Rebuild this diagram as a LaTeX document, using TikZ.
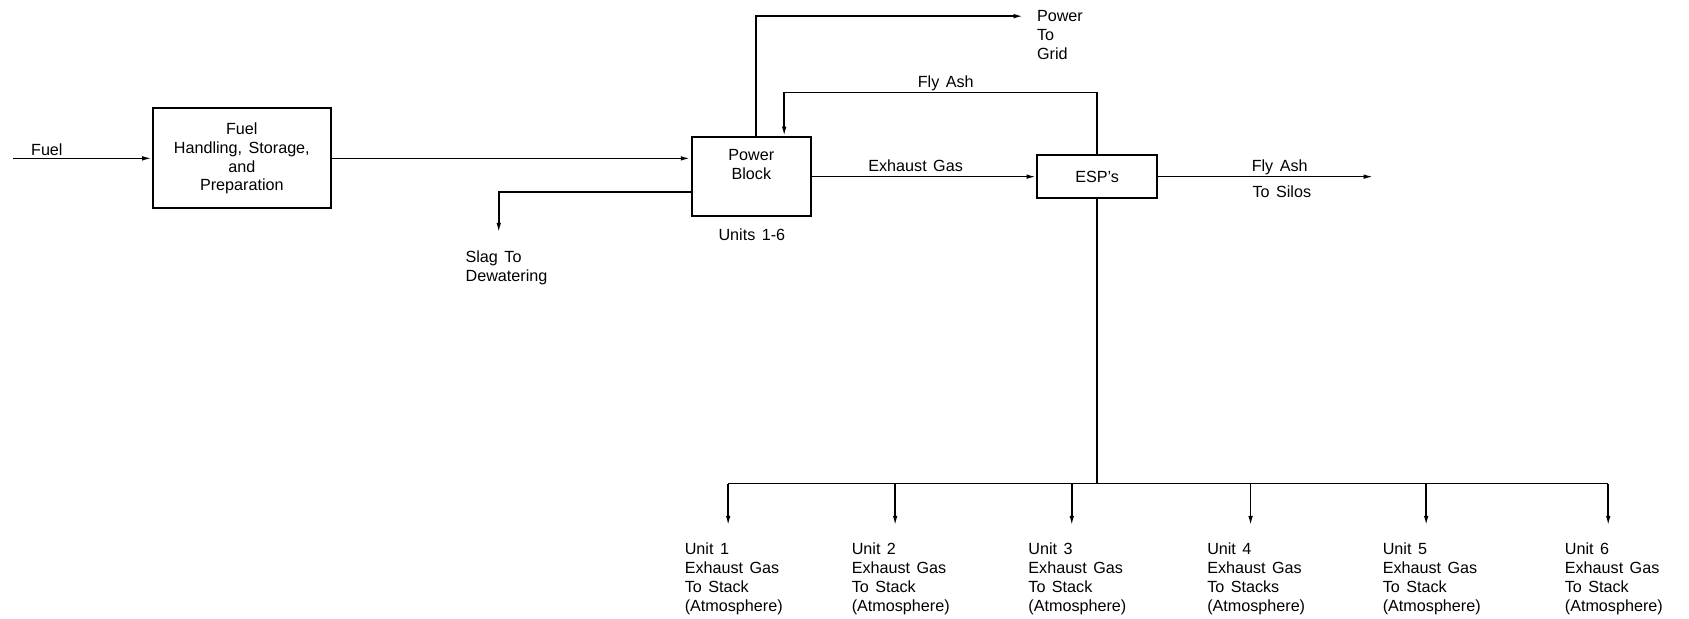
\documentclass[tikz,border=0pt]{standalone}
\usepackage{fontspec}
\setmainfont{Liberation Sans}
\usetikzlibrary{arrows.meta}
\newcommand{\cadfont}{\fontsize{15}{17.6}\selectfont\spaceskip=6pt\relax}

\begin{document}
\begin{tikzpicture}[x=1pt, y=-1pt, line width=1.5pt, >={Latex[length=9pt,width=4.2pt]},
	every node/.style={font=\cadfont, inner sep=0pt},
	unit/.style={draw, line width=1.9pt},
	flow/.style={->},
	txt/.style={align=center},
	lbl/.style={anchor=base},
	stack/.style={align=left, anchor=north west}]
		\useasboundingbox (0,0) rectangle (1568,574);

		\node[unit, txt, minimum width=165pt, minimum height=93pt] (fuelbox) at (224.5,147) {Fuel\\Handling, Storage,\\and\\Preparation};
		\node[unit, minimum width=111pt, minimum height=73pt] (power) at (697.5,164) {};
		\node[txt] (powertxt) at (697.5,153) {Power\\Block};
		\node[unit, minimum width=111pt, minimum height=40pt] (esp) at (1018.5,164) {ESP's};

		\coordinate (F) at (12,147);
		\coordinate (S) at (463,216);
		\coordinate (G) at (950,15);
		\coordinate (A) at (728,86);
		\coordinate (T) at (1275,164);
		\coordinate (B) at (1018.5,449);

		\draw[flow] (F) -- (fuelbox.west);
		\draw[flow] (fuelbox.east) -- (fuelbox.east -| power.west);
		\draw[flow] ([yshift=-14pt]power.west) -| (S);
		\draw[flow] ([xshift=4.5pt]power.north) |- (G);
		\draw[flow] (esp.north) |- (A) -- (A |- power.north);
		\draw[flow] (power.east) -- (esp.west);
		\draw[flow] (esp.east) -- (T);
		\draw (esp.south) -- (B);

		\foreach \i/\x/\s in {1/676/Stack, 2/831/Stack, 3/995/Stack, 4/1161/Stacks, 5/1324/Stack, 6/1493/Stack} {
			\coordinate (b\i) at (\x,449);
			\coordinate (t\i) at (\x,488);
			\draw[flow] (b\i) -- (t\i);
			\node[stack] (u\i) at (\x-41,503) {Unit \i\\Exhaust Gas\\To \s\\(Atmosphere)};
		}
		\draw (b1) -- (b6);

		\node[lbl] (fuel) at (43.5,144.5) {Fuel};
		\node[lbl] (units) at (698,223) {Units 1-6};
		\node[stack] (slag) at (431.5,232.5) {Slag To\\Dewatering};
		\node[stack] (grid) at (962,8.5) {Power\\To\\Grid};
		\node[lbl] (ashtop) at (878,81.5) {Fly Ash};
		\node[lbl] (gas) at (850,159.5) {Exhaust Gas};
		\node[lbl] (ashout) at (1188,159.5) {Fly Ash};
		\node[lbl] (silos) at (1190,183.5) {To Silos};
	\end{tikzpicture}
\end{document}
